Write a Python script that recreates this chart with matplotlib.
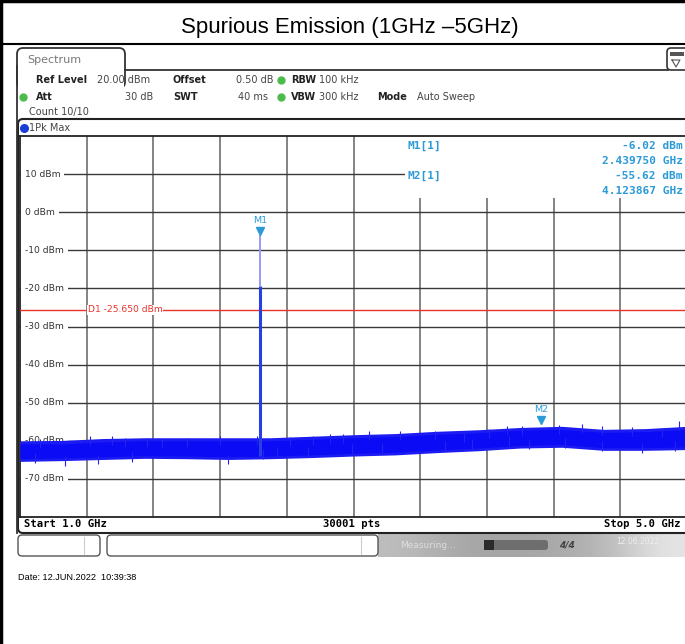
import numpy as np
import matplotlib.pyplot as plt
from matplotlib.patches import FancyBboxPatch, Rectangle
from matplotlib.transforms import blended_transform_factory, offset_copy

# --- data ---
f_start, f_stop = 1.0, 5.0          # GHz
ref_top, ref_bottom = 20, -80       # dBm
ytick_vals = [10, 0, -10, -20, -30, -40, -50, -60, -70]

# noise floor envelope (dense part of the trace)
env_f = [1.0, 1.25, 1.5, 1.75, 2.0, 2.25, 2.5, 2.75, 3.0, 3.25, 3.5, 3.75,
         4.0, 4.25, 4.5, 4.75, 5.0]
env_hi = [-60.8, -60.8, -60.3, -60.0, -60.0, -60.0, -60.0, -59.6, -59.2,
          -58.9, -58.3, -57.9, -57.2, -57.0, -57.8, -57.6, -57.0]
env_lo = [-64.7, -64.5, -64.2, -63.9, -64.0, -64.2, -64.0, -63.7, -63.3,
          -63.0, -62.4, -61.9, -61.2, -61.0, -61.8, -61.8, -61.6]
# fringe around the dense part
fr_hi = [-60.0, -59.9, -59.4, -59.2, -59.2, -59.2, -59.2, -58.8, -58.4,
         -58.1, -57.5, -57.1, -56.5, -56.2, -57.0, -56.8, -56.2]
fr_lo = [-65.4, -65.2, -64.9, -64.6, -64.7, -64.9, -64.7, -64.4, -64.0,
         -63.7, -63.1, -62.6, -61.9, -61.7, -62.5, -62.5, -62.3]

# visible spikes above / below the floor
up_f = [1.12, 1.42, 1.55, 1.63, 1.76, 1.85, 2.00, 2.20, 2.42, 2.62, 2.76,
        2.86, 2.94, 3.09, 3.28, 3.49, 3.66, 3.81, 3.92, 4.01, 4.23, 4.37,
        4.49, 4.67, 4.85, 4.95]
up_v = [-59.5, -58.7, -58.7, -59.2, -59.2, -59.5, -59.2, -58.7, -58.7,
        -58.9, -58.7, -58.2, -58.2, -57.4, -57.4, -57.4, -57.9, -56.8,
        -56.1, -56.1, -55.8, -55.5, -56.1, -56.3, -56.6, -54.7]
dn_f = [1.09, 1.27, 1.47, 1.67, 2.25, 2.46, 2.54, 2.73, 2.99, 3.17, 3.55,
        3.71, 3.93, 4.05, 4.27, 4.49, 4.73, 4.93]
dn_v = [-65.8, -66.6, -66.1, -65.5, -66.1, -64.7, -64.5, -64.2, -63.4,
        -63.2, -62.6, -62.1, -61.3, -62.1, -61.8, -62.6, -63.2, -62.6]

# carrier and markers
m1_f, m1_dbm = 2.439750, -6.02
m1_clrw = -19.5                      # top of the clear-write part of the carrier
m2_f, m2_dbm = 4.123867, -55.62
d1_dbm = -25.650

# --- colours ---
trace_c = '#0b0bf5'
mark_c = '#2a9ad8'
d1_c = '#e8352c'
green = '#4cbb4c'
mono = 'DejaVu Sans Mono'

fig = plt.figure(figsize=(6.85, 6.44), dpi=100)

# background layer in pixel coordinates
bg = fig.add_axes([0, 0, 1, 1])
bg.set_xlim(0, 685)
bg.set_ylim(644, 0)
bg.axis('off')

# table cell border + title
bg.plot([1, 1], [0, 644], color='black', lw=2.5)
bg.plot([0, 685], [0.5, 0.5], color='black', lw=2.5)
bg.plot([0, 685], [44, 44], color='black', lw=1.5)
bg.text(350, 27, 'Spurious Emission (1GHz \u20135GHz)', ha='center', va='center',
        fontsize=16, family='Liberation Sans')

# Spectrum tab and window
bg.add_patch(FancyBboxPatch((17, 48), 108, 40, boxstyle='round,pad=0,rounding_size=6',
                            fc='white', ec='#333333', lw=1.3))
bg.add_patch(Rectangle((18, 70.8), 106, 20, fc='white', ec='none'))
bg.plot([125, 668], [70, 70], color='#333333', lw=1.3)
bg.plot([17, 17], [66, 533], color='#333333', lw=1.3)
bg.text(27, 60, 'Spectrum', fontsize=8, color='#777777', va='center')
bg.add_patch(FancyBboxPatch((667, 48), 25, 22, boxstyle='round,pad=0,rounding_size=4',
                            fc='white', ec='#333333', lw=1.2))
bg.add_patch(Rectangle((670, 52), 14, 4, fc='#555555', ec='none'))
bg.plot([672, 680, 676, 672], [60, 60, 67, 60], color='#555555', lw=0.8)

# header settings
hs = dict(fontsize=7.0, va='center', color='#222222')
hv = dict(fontsize=7.0, va='center', color='#444444')
bg.text(36, 80, 'Ref Level', fontweight='bold', **hs)
bg.text(97, 80, '20.00 dBm', **hv)
bg.text(173, 80, 'Offset', fontweight='bold', **hs)
bg.text(236, 80, '0.50 dB', **hv)
bg.text(291, 80, 'RBW', fontweight='bold', **hs)
bg.text(319, 80, '100 kHz', **hv)
bg.text(36, 97, 'Att', fontweight='bold', **hs)
bg.text(153, 97, '30 dB', ha='right', **hv)
bg.text(173, 97, 'SWT', fontweight='bold', **hs)
bg.text(268, 97, '40 ms', ha='right', **hv)
bg.text(291, 97, 'VBW', fontweight='bold', **hs)
bg.text(319, 97, '300 kHz', **hv)
bg.text(377, 97, 'Mode', fontweight='bold', **hs)
bg.text(417, 97, 'Auto Sweep', **hv)
bg.text(29, 112, 'Count 10/10', **hv)
for x, y in [(281, 80), (23, 97), (281, 97)]:
    bg.plot(x, y, 'o', ms=5, color=green, mec=green)

# trace window box
bg.add_patch(FancyBboxPatch((18, 119), 690, 414, boxstyle='round,pad=0,rounding_size=5',
                            fc='white', ec='#222222', lw=1.5))
bg.plot(24, 128, 'o', ms=5.5, color='#1a3fd6')
bg.text(29, 128, '1Pk Max', **hv)

# bottom row of the trace window
bg.text(24, 524, 'Start 1.0 GHz', family=mono, fontweight='bold', fontsize=7.6, va='center')
bg.text(352, 524, '30001 pts', family=mono, fontweight='bold', fontsize=7.6,
        va='center', ha='center')
bg.text(681, 524, 'Stop 5.0 GHz', family=mono, fontweight='bold', fontsize=7.6,
        va='center', ha='right')

# status bar
grad = np.array([[0.74, 0.66, 0.64, 0.66, 0.72, 0.90]])
bg.imshow(grad, cmap='gray', vmin=0, vmax=1, extent=(378, 685, 557, 534),
          aspect='auto', interpolation='bicubic')
bg.add_patch(FancyBboxPatch((18, 535), 82, 21, boxstyle='round,pad=0,rounding_size=4',
                            fc='white', ec='#555555', lw=1))
bg.add_patch(FancyBboxPatch((107, 535), 271, 21, boxstyle='round,pad=0,rounding_size=4',
                            fc='white', ec='#555555', lw=1))
bg.plot([84, 84], [537, 554], color='#cccccc', lw=0.8)
bg.plot([361, 361], [537, 554], color='#cccccc', lw=0.8)
bg.text(400, 545, 'Measuring...', color='#dddddd', fontsize=6.5, va='center')
bg.add_patch(FancyBboxPatch((484, 540), 64, 10, boxstyle='round,pad=0,rounding_size=3',
                            fc='#6e6e6e', ec='none'))
bg.add_patch(Rectangle((484, 540), 10, 10, fc='#2a2a2a', ec='none'))
bg.text(567, 545, '4/4', color='#444444', fontsize=6.5, va='center', ha='center',
        fontweight='bold', style='italic')
bg.text(616, 542, '12.06.2022', color='#eeeeee', fontsize=5.5, va='center')

bg.text(18, 577, 'Date: 12.JUN.2022  10:39:38', fontsize=6.6, va='center',
        family='Liberation Sans')

# --- spectrum plot ---
ax = fig.add_axes([20 / 685, 1 - 517 / 644, 667 / 685, 381 / 644], zorder=2)
ax.set_xlim(f_start, f_stop)
ax.set_ylim(ref_bottom, ref_top)
ax.set_xticks([])
ax.set_yticks([])
for s in ax.spines.values():
    s.set_color('#222222')
    s.set_linewidth(1.3)

for v in np.arange(f_start + 0.4, f_stop - 0.01, 0.4):
    ax.axvline(v, color='#7a7a7a', lw=1.3, zorder=1)
for v in ytick_vals:
    ax.axhline(v, color='#3a3a3a', lw=1.0, zorder=1)

# marker info area covers the grid in the upper right
ax.add_patch(Rectangle((3.31, 3.7), f_stop - 3.31, ref_top - 3.7, fc='white',
                       ec='none', zorder=1.5))

ylab_tr = blended_transform_factory(ax.transAxes, ax.transData)
for v in ytick_vals:
    ax.text(0.007, v, f'{v} dBm', transform=ylab_tr, fontsize=6.6, va='center',
            color='#333333', zorder=2,
            bbox=dict(fc='white', ec='none', pad=3.0))

# display line D1
ax.axhline(d1_dbm, color=d1_c, lw=1.0, zorder=3)
ax.text(1.405, d1_dbm, f'D1 {d1_dbm:.3f} dBm', color=d1_c, fontsize=6.6,
        va='center', zorder=3.5, bbox=dict(fc='white', ec='none', pad=0.6))

# trace
ax.fill_between(env_f, fr_lo, fr_hi, color='#1c1cf2', lw=0, zorder=4)
ax.fill_between(env_f, env_lo, env_hi, color=trace_c, lw=0, zorder=4)
ax.vlines(up_f, np.array(up_v) - 2.5, up_v, color='#2424f0', lw=0.8, zorder=4)
ax.vlines(dn_f, dn_v, np.array(dn_v) + 2.5, color='#2424f0', lw=0.8, zorder=4)
ax.vlines(m1_f, env_lo[6], m1_clrw, color='#2a3fe0', lw=2.2, zorder=4)
ax.vlines(m1_f, m1_clrw, m1_dbm, color='#9a9af2', lw=1.4, zorder=4)

# markers
mk_tr = offset_copy(ax.transData, fig=fig, y=3, units='points')
ax.plot([m1_f, m2_f], [m1_dbm, m2_dbm], 'v', ms=6, color=mark_c,
        transform=mk_tr, zorder=5)
for name, f, d in [('M1', m1_f, m1_dbm), ('M2', m2_f, m2_dbm)]:
    ax.annotate(name, (f, d), xytext=(0, 7), textcoords='offset points',
                ha='center', va='bottom', fontsize=6.8, color=mark_c, zorder=5)

# marker table on top
top = fig.add_axes([0, 0, 1, 1], zorder=3)
top.set_xlim(0, 685)
top.set_ylim(644, 0)
top.axis('off')
ms = dict(family=mono, fontweight='bold', fontsize=8, color=mark_c, va='center')
top.text(408, 146, 'M1[1]', **ms)
top.text(408, 176, 'M2[1]', **ms)
top.text(683, 146, f'{m1_dbm:.2f} dBm', ha='right', **ms)
top.text(683, 161, f'{m1_f:.6f} GHz', ha='right', **ms)
top.text(683, 176, f'{m2_dbm:.2f} dBm', ha='right', **ms)
top.text(683, 191, f'{m2_f:.6f} GHz', ha='right', **ms)

fig.savefig('out.png', dpi=100)
